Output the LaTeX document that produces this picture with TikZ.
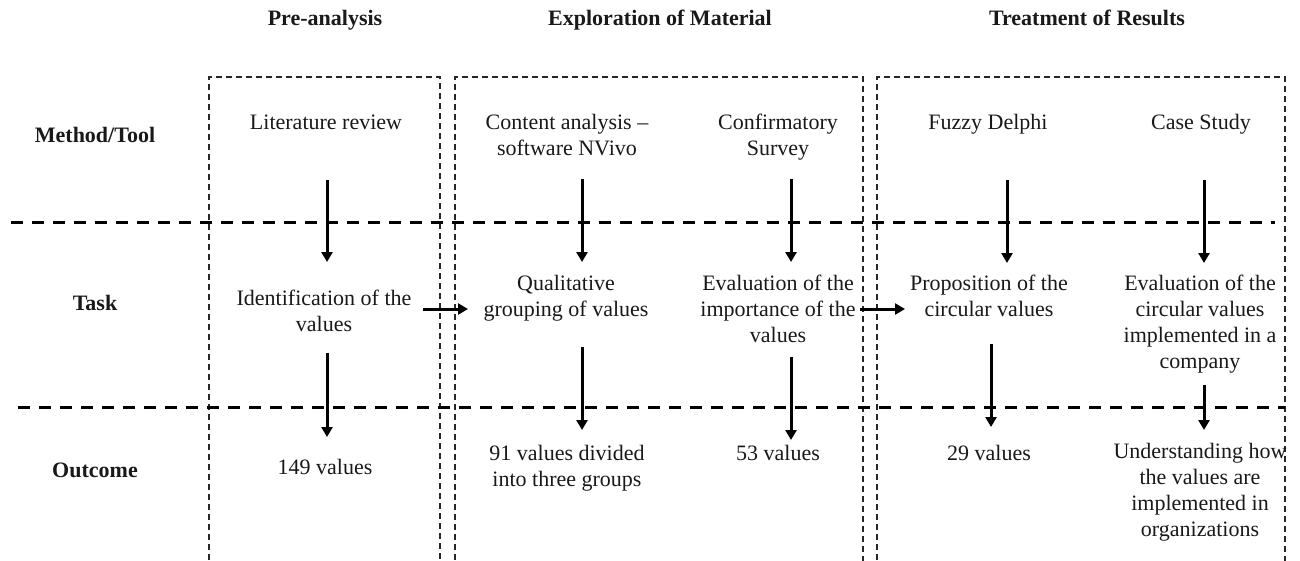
\documentclass[tikz,border=0pt]{standalone}
\usepackage{fontspec}
\setmainfont{Liberation Serif}
\usetikzlibrary{arrows.meta}

\begin{document}
\begin{tikzpicture}[x=1pt,y=-1pt,
  txt/.style={font=\fontsize{22}{26}\selectfont, align=center, anchor=base, inner sep=0pt, text=black!90},
  hdr/.style={txt, font=\fontsize{22}{26}\selectfont\bfseries},
  phasebox/.style={draw=black!85, line width=1.1pt, dash pattern=on 6pt off 4pt},
  rowline/.style={draw=black, line width=3pt, dash pattern=on 12pt off 9pt},
  flow/.style={draw=black, line width=3pt, -{Triangle[width=11pt,length=10pt]}},
]
\fill[white] (0,0) rectangle (1300,560);
\useasboundingbox (0,0) rectangle (1300,560);

% phase frames (open at the bottom edge)
\begin{scope}
  \clip (0,0) rectangle (1300,560);
  \draw[phasebox] (209,600) -- (209,77) -- (440,77) -- (440,600);
  \draw[phasebox] (455,600) -- (455,77) -- (863,77) -- (863,600);
  \draw[phasebox] (877,600) -- (877,77) -- (1285,77) -- (1285,600);
\end{scope}

% row separators
\coordinate (sepA1) at (11,222);
\coordinate (sepA2) at (1275,222);
\coordinate (sepB1) at (18,407);
\coordinate (sepB2) at (1285,407);
\draw[rowline] (sepA1) -- (sepA2);
\draw[rowline] (sepB1) -- (sepB2);

% phase headings
\node[hdr] (hPre) at (325,25) {Pre-analysis};
\node[hdr] (hExp) at (660,25) {Exploration of Material};
\node[hdr] (hTre) at (1087,25) {Treatment of Results};

% row headings
\node[hdr] (rMeth) at (95,142) {Method/Tool};
\node[hdr] (rTask) at (95,310) {Task};
\node[hdr] (rOut) at (95,477) {Outcome};

% methods / tools (base anchor = baseline of the last line)
\node[txt] (m1) at (326,129) {Literature review};
\node[txt] (m2) at (567,155) {Content analysis –\\software NVivo};
\node[txt] (m3) at (778,155) {Confirmatory\\Survey};
\node[txt] (m4) at (988,129) {Fuzzy Delphi};
\node[txt] (m5) at (1201,129) {Case Study};

% tasks
\node[txt] (t1) at (324,331) {Identification of the\\values};
\node[txt] (t2) at (566,316) {Qualitative\\grouping of values};
\node[txt] (t3) at (778,342) {Evaluation of the\\importance of the\\values};
\node[txt] (t4) at (989,316) {Proposition of the\\circular values};
\node[txt] (t5) at (1200,368) {Evaluation of the\\circular values\\implemented in a\\company};

% outcomes
\node[txt] (o1) at (325,474) {149 values};
\node[txt] (o2) at (567,486) {91 values divided\\into three groups};
\node[txt] (o3) at (778,460) {53 values};
\node[txt] (o4) at (989,460) {29 values};
\node[txt] (o5) at (1200,536) {Understanding how\\the values are\\implemented in\\organizations};

% arrow end points
\coordinate (m1d) at (327,180);  \coordinate (t1u) at (327,262);
\coordinate (t1d) at (327,353);  \coordinate (o1u) at (327,437);
\coordinate (m2d) at (582,179);  \coordinate (t2u) at (582,262);
\coordinate (t2d) at (582,347);  \coordinate (o2u) at (582,430);
\coordinate (m3d) at (791,179);  \coordinate (t3u) at (791,262);
\coordinate (t3d) at (791,357);  \coordinate (o3u) at (791,440);
\coordinate (m4d) at (1007,180); \coordinate (t4u) at (1007,263);
\coordinate (t4d) at (991,344);  \coordinate (o4u) at (991,427);
\coordinate (m5d) at (1204,180); \coordinate (t5u) at (1204,263);
\coordinate (t5d) at (1204,385); \coordinate (o5u) at (1204,430);
\coordinate (t1r) at (423,309);  \coordinate (t2l) at (468,309);
\coordinate (t3r) at (860,309);  \coordinate (t4l) at (905,309);

% flow arrows
\draw[flow] (m1d) -- (t1u);
\draw[flow] (t1d) -- (o1u);
\draw[flow] (m2d) -- (t2u);
\draw[flow] (t2d) -- (o2u);
\draw[flow] (m3d) -- (t3u);
\draw[flow] (t3d) -- (o3u);
\draw[flow] (m4d) -- (t4u);
\draw[flow] (t4d) -- (o4u);
\draw[flow] (m5d) -- (t5u);
\draw[flow] (t5d) -- (o5u);
\draw[flow] (t1r) -- (t2l);
\draw[flow] (t3r) -- (t4l);
\end{tikzpicture}
\end{document}
